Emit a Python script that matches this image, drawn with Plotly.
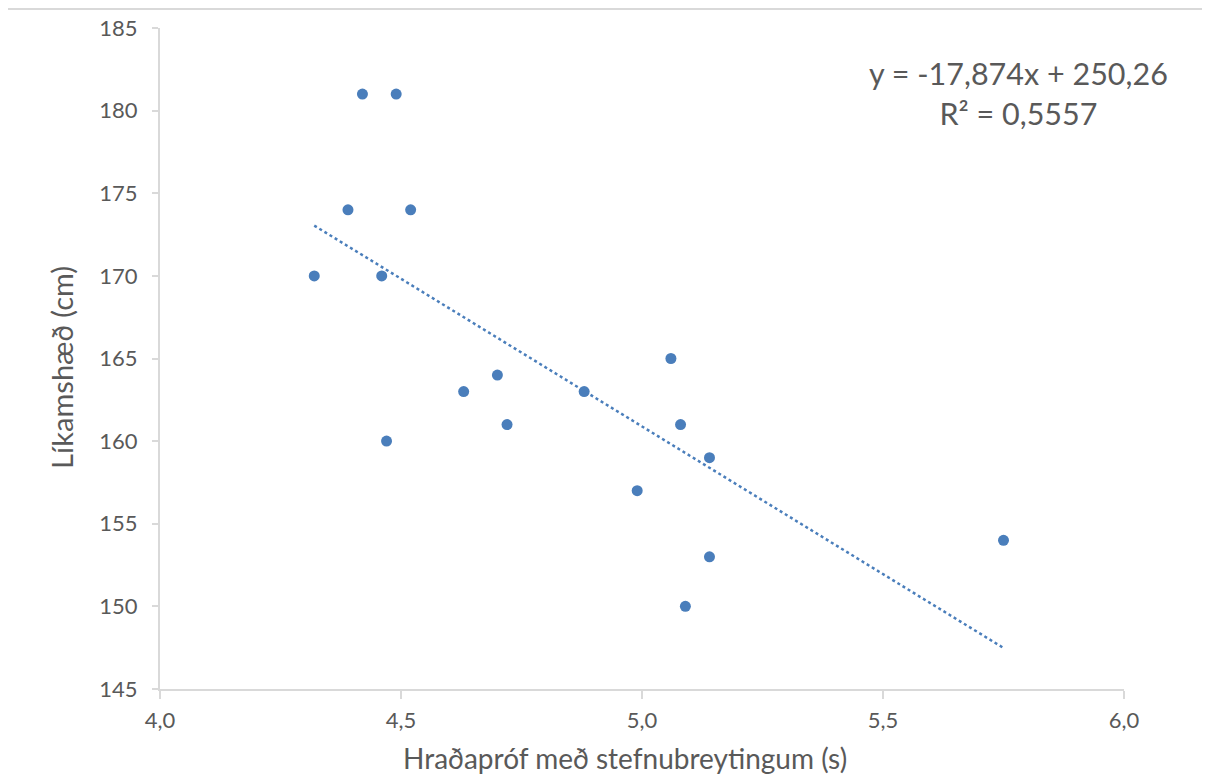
import plotly.graph_objects as go

# Data
hradaprof = [4.32, 4.42, 4.49, 4.39, 4.52, 4.46, 4.47, 4.63, 4.70, 4.72,
             4.88, 4.99, 5.06, 5.08, 5.14, 5.14, 5.09, 5.75]
likamshaed = [170, 181, 181, 174, 174, 170, 160, 163, 164, 161,
              163, 157, 165, 161, 159, 153, 150, 154]

slope = -17.874
intercept = 250.26
r_squared = 0.5557

x_ticks = [4.0, 4.5, 5.0, 5.5, 6.0]
y_ticks = [145, 150, 155, 160, 165, 170, 175, 180, 185]

# page body has an 8px default margin; layout positions are given in
# window pixels and shifted by OFF
OFF = 8
W, H = 1210 - 2 * OFF, 782 - 2 * OFF
L, R, T, B = 160 - OFF, 1124 - OFF, 28 - OFF, 689 - OFF
pw, ph = R - L, B - T

def px(xp):
    return (xp - OFF - L) / pw

def py(yp):
    return (B - (yp - OFF)) / ph

FONT = "Lato"
TXT = "#595959"
BLUE = "#4a7ebb"
AXC = "#d9d9d9"

trend_x = [min(hradaprof), max(hradaprof)]
trend_y = [slope * v + intercept for v in trend_x]

fig = go.Figure()
fig.add_trace(go.Scatter(
    x=trend_x, y=trend_y, mode="lines",
    line=dict(color=BLUE, width=2.5, dash="dot"),
    hoverinfo="skip", showlegend=False))
fig.add_trace(go.Scatter(
    x=hradaprof, y=likamshaed, mode="markers",
    marker=dict(color=BLUE, size=11, line=dict(width=0)),
    showlegend=False))

eq_text = (f"y = {slope:.3f}x + {intercept:.2f}".replace(".", ",")
           + "<br>" + f"R² = {r_squared:.4f}".replace(".", ","))

fig.update_layout(
    width=W, height=H,
    margin=dict(l=L, r=W - R, t=T, b=H - B, pad=0, autoexpand=False),
    paper_bgcolor="white", plot_bgcolor="white",
    separators=", ",
    font=dict(family=FONT, color=TXT, size=22),
    xaxis=dict(range=[4.0, 6.0], tickvals=x_ticks, tickformat=".1f",
               showgrid=False, zeroline=False, showline=True, automargin=False,
               linecolor=AXC, linewidth=2, ticks="outside", ticklen=8,
               tickcolor=AXC, tickwidth=2, tickfont=dict(size=22, color=TXT),
               ticklabelstandoff=3),
    yaxis=dict(range=[145, 185], tickvals=y_ticks,
               showgrid=False, zeroline=False, showline=True, automargin=False,
               linecolor=AXC, linewidth=2, ticks="outside", ticklen=6,
               tickcolor=AXC, tickwidth=2, tickfont=dict(size=22, color=TXT),
               ticklabelstandoff=10),
    annotations=[
        dict(text="Hraðapróf með stefnubreytingum (s)", xref="paper", yref="paper",
             x=px(625), y=py(758), showarrow=False, xanchor="center", yanchor="middle",
             font=dict(size=28, color=TXT, family=FONT)),
        dict(text="Líkamshæð (cm)", xref="paper", yref="paper",
             x=px(62), y=py(368), showarrow=False, xanchor="center", yanchor="middle",
             textangle=-90, font=dict(size=29, color=TXT, family=FONT)),
        dict(text=eq_text, xref="paper", yref="paper",
             x=px(1018), y=py(93), showarrow=False, xanchor="center", yanchor="middle",
             align="center", font=dict(size=30.5, color=TXT, family=FONT)),
    ],
    shapes=[dict(type="rect", xref="paper", yref="paper",
                 x0=px(6), x1=px(1240), y0=py(810), y1=py(9),
                 line=dict(color=AXC, width=2), fillcolor="rgba(0,0,0,0)", layer="below")],
)

fig.write_html("out.html")
